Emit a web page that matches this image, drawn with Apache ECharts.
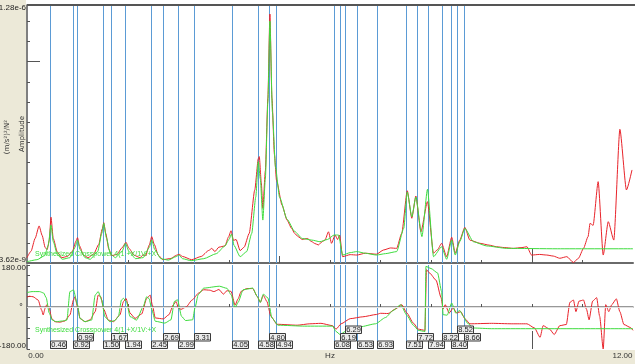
<!DOCTYPE html>
<html><head><meta charset="utf-8">
<script src="https://cdn.jsdelivr.net/npm/echarts@6/dist/echarts.min.js"></script>
<style>html,body{margin:0;padding:0;background:#fff}#c{width:635px;height:364px}</style>
</head><body><div id="c"></div>
<script>
// Marker (mode) frequencies, Hz
const markerHz = [0.46,0.92,0.99,1.50,1.67,1.94,2.45,2.69,2.99,3.31,4.05,4.58,4.80,4.94,6.08,6.19,6.29,6.53,6.93,7.51,7.72,7.94,8.22,8.40,8.52,8.66];

// Amplitude, [Hz, value in 1e-9 (m/s²)²/N²]
const ampMeasured = [[0.00,30],[0.08,62],[0.16,125],[0.24,187],[0.30,140],[0.36,80],[0.40,70],[0.44,115],[0.475,230],[0.52,125],[0.60,58],[0.69,30],[0.80,36],[0.90,62],[0.97,112],[1.00,129],[1.04,88],[1.12,42],[1.21,30],[1.32,48],[1.42,95],[1.49,172],[1.52,203],[1.56,150],[1.62,72],[1.68,40],[1.78,46],[1.88,78],[1.96,106],[2.02,76],[2.12,42],[2.24,30],[2.30,44],[2.35,40],[2.42,92],[2.47,134],[2.52,96],[2.60,42],[2.69,20],[2.85,26],[2.96,42],[3.01,47],[3.08,36],[3.26,20],[3.45,36],[3.60,66],[3.66,76],[3.72,60],[3.80,82],[3.92,88],[3.99,132],[4.04,163],[4.09,115],[4.14,120],[4.22,65],[4.30,82],[4.40,150],[4.51,365],[4.58,520],[4.60,530],[4.64,400],[4.67,274],[4.72,460],[4.77,820],[4.81,1235],[4.85,820],[4.90,540],[4.94,414],[5.05,290],[5.15,215],[5.24,175],[5.30,150],[5.37,134],[5.45,120],[5.55,125],[5.64,109],[5.70,100],[5.77,93],[5.85,110],[5.90,117],[5.97,158],[6.03,101],[6.10,142],[6.15,120],[6.19,142],[6.25,35],[6.40,45],[6.53,43],[6.70,52],[6.92,47],[7.06,68],[7.20,78],[7.32,76],[7.42,150],[7.53,361],[7.62,225],[7.70,335],[7.80,158],[7.93,307],[8.05,52],[8.13,70],[8.21,101],[8.31,35],[8.41,131],[8.48,52],[8.57,117],[8.67,180],[8.77,117],[8.97,101],[9.15,92],[9.30,84],[9.45,80],[9.63,76],[9.80,80],[9.90,84],[9.99,43],[10.15,46],[10.29,43],[10.42,38],[10.55,27],[10.69,35],[10.82,6],[10.92,27],[11.02,76],[11.11,134],[11.15,200],[11.21,190],[11.31,406],[11.41,43],[11.51,208],[11.62,117],[11.74,665],[11.87,365],[11.98,464]];
const ampSynth = [[0.00,10],[0.20,20],[0.35,40],[0.42,90],[0.475,191],[0.52,110],[0.60,45],[0.70,22],[0.85,30],[0.95,80],[1.00,117],[1.05,70],[1.15,30],[1.25,22],[1.40,60],[1.48,150],[1.52,200],[1.57,130],[1.65,50],[1.75,30],[1.88,60],[1.95,101],[2.02,60],[2.15,25],[2.30,30],[2.42,80],[2.47,117],[2.53,70],[2.65,25],[2.80,18],[2.95,35],[3.01,43],[3.08,25],[3.25,15],[3.50,25],[3.75,50],[3.92,88],[4.00,120],[4.05,147],[4.10,90],[4.22,35],[4.35,60],[4.45,150],[4.53,330],[4.58,505],[4.62,420],[4.67,216],[4.72,420],[4.77,800],[4.81,1200],[4.86,750],[4.92,480],[5.00,330],[5.15,220],[5.30,160],[5.45,125],[5.64,117],[5.80,109],[5.95,120],[6.08,142],[6.17,142],[6.25,43],[6.40,55],[6.53,60],[6.70,52],[6.92,43],[7.10,50],[7.32,60],[7.46,175],[7.53,355],[7.62,232],[7.70,330],[7.82,134],[7.93,368],[8.05,35],[8.21,84],[8.31,22],[8.41,117],[8.48,43],[8.57,110],[8.67,175],[8.84,109],[9.10,88],[9.50,76],[10.50,74],[12.00,74]];

// Phase, [Hz, degrees]
const phaseMeasured = [[0.00,42],[0.05,46],[0.12,44],[0.22,30],[0.29,-13],[0.32,-34],[0.36,-5],[0.39,9],[0.44,-5],[0.49,-49],[0.55,-63],[0.65,-65],[0.75,-60],[0.85,-34],[0.92,30],[0.95,44],[1.00,1],[1.05,-49],[1.15,-63],[1.25,-55],[1.35,-20],[1.41,51],[1.46,44],[1.52,-10],[1.61,-56],[1.71,-63],[1.84,-34],[1.91,23],[1.96,37],[2.04,-26],[2.14,-49],[2.27,-30],[2.37,37],[2.44,51],[2.48,10],[2.54,-47],[2.70,-51],[2.81,-33],[2.90,10],[2.95,24],[3.00,-5],[3.05,-10],[3.15,0],[3.27,30],[3.40,60],[3.50,74],[3.62,72],[3.70,66],[3.80,75],[3.89,55],[3.96,70],[4.04,67],[4.12,8],[4.18,35],[4.24,67],[4.35,79],[4.47,79],[4.56,45],[4.62,20],[4.68,50],[4.75,24],[4.83,-40],[4.95,-74],[5.35,-78],[5.60,-72],[5.82,-70],[6.05,-80],[6.12,-95],[6.22,-72],[6.40,-50],[6.65,-42],[6.92,-32],[7.00,-27],[7.15,-28],[7.30,-8],[7.42,10],[7.52,-25],[7.65,-69],[7.75,-95],[7.88,-100],[7.91,160],[7.97,146],[8.10,115],[8.20,40],[8.24,-9],[8.28,10],[8.36,-26],[8.44,-4],[8.51,-26],[8.59,-20],[8.67,-50],[8.77,-72],[9.20,-70],[9.60,-72],[9.90,-72],[10.05,-90],[10.16,-130],[10.22,-80],[10.35,-95],[10.44,-118],[10.55,-80],[10.68,-75],[10.75,20],[10.82,30],[10.87,-20],[10.93,25],[11.02,30],[11.08,-10],[11.13,-55],[11.20,25],[11.28,40],[11.34,-40],[11.41,-180],[11.46,10],[11.52,-20],[11.58,10],[11.67,35],[11.74,-20],[11.82,-75],[11.95,-88],[12.00,-100]];
const phaseSynth = [[0.00,62],[0.10,66],[0.25,66],[0.33,60],[0.38,40],[0.44,-26],[0.50,-56],[0.58,-63],[0.70,-60],[0.79,-56],[0.85,66],[0.92,73],[1.00,9],[1.05,-49],[1.15,-63],[1.28,-56],[1.35,51],[1.41,66],[1.48,30],[1.54,-41],[1.64,-63],[1.74,-58],[1.81,-41],[1.87,30],[1.91,37],[1.97,23],[2.04,-41],[2.17,-56],[2.30,1],[2.37,44],[2.42,35],[2.47,-10],[2.54,-61],[2.73,-69],[2.85,-55],[2.92,24],[2.98,31],[3.06,-40],[3.14,-58],[3.28,-55],[3.33,0],[3.39,53],[3.50,81],[3.81,89],[3.96,80],[4.04,53],[4.12,-4],[4.18,20],[4.28,74],[4.47,81],[4.56,45],[4.62,20],[4.68,55],[4.77,39],[4.85,-47],[4.97,-78],[5.50,-82],[6.05,-82],[6.12,-105],[6.20,-118],[6.30,-105],[6.40,-92],[6.60,-85],[6.90,-72],[7.10,-45],[7.25,-15],[7.40,10],[7.52,-35],[7.65,-78],[7.75,-100],[7.88,-105],[7.90,174],[8.00,165],[8.13,146],[8.21,67],[8.24,-33],[8.32,-35],[8.41,17],[8.49,-26],[8.57,-15],[8.64,-40],[8.72,-69],[8.84,-90],[9.20,-93],[12.00,-93]];

// Axis ranges and tick labels
const ampMin = 3.62, ampMax = 1280;
const ampTickLabels = ['3.62e-9', '1.28e-6'];
const phaseTickLabels = ['-180.00', '180.00'];
const freqTickLabels = ['0.00', '12.00'];
const seriesName = 'Synthesized Crosspower 4(1:+X/1V:+X';

const FONT = 'Liberation Sans';
const RED = '#e8232a', GREEN = '#3edc3e', BLUE = '#5b9bd5';

// tick positions
const ampTicks = []; for (let v = 100; v <= 1200; v += 100) ampTicks.push(v);
const freqTicks = []; for (let v = 1; v <= 11; v++) freqTicks.push(v);

// stack marker label boxes into rows so they don't overlap
const boxHz = 0.33, rowEnd = [];
const markerBoxes = markerHz.map(f => {
  let r = 0;
  while (rowEnd[r] !== undefined && rowEnd[r] > f + 1e-9) r++;
  rowEnd[r] = f + boxHz;
  return [f, r];
});

function xAx(grid, ticks, len, extra) {
  return Object.assign({
    gridIndex: grid, type: 'value', min: 0, max: 12, position: 'bottom',
    axisLine: {show: false},
    axisTick: {show: true, inside: true, length: len, customValues: ticks, lineStyle: {color: '#555', width: 1}},
    axisLabel: {show: false}, splitLine: {show: false}
  }, extra || {});
}

// vertical marker line drawn through the axis scale
function markerLine(yRef) {
  return function (params, api) {
    const p = api.coord([api.value(0), yRef]);
    const cs = params.coordSys;
    const x = Math.round(p[0]) + 0.5;
    return {type: 'line', shape: {x1: x, y1: cs.y, x2: x, y2: cs.y + cs.height},
            style: {stroke: BLUE, lineWidth: 1}};
  };
}

function curve(name, xi, yi, data, color, z) {
  return {name: name, type: 'line', xAxisIndex: xi, yAxisIndex: yi, data: data,
          showSymbol: false, z: z, smooth: 0.2, smoothMonotone: 'x',
          lineStyle: {color: color, width: 1}, itemStyle: {color: color}};
}

const chart = echarts.init(document.getElementById('c'));
chart.setOption({
  animation: false,
  backgroundColor: '#ffffff',
  grid: [
    {left: 27, top: 5, width: 606, height: 258, containLabel: false, outerBoundsMode: 'none'},
    {left: 27, top: 265, width: 606, height: 84, containLabel: false, outerBoundsMode: 'none'}
  ],
  xAxis: [
    xAx(0, freqTicks, 3, {axisLine: {show: true, lineStyle: {color: '#6a6a6a', width: 2}}}),
    xAx(0, [5], 7),
    xAx(0, [10], 14),
    xAx(1, freqTicks, 3, {
      axisLine: {show: true, lineStyle: {color: '#777', width: 1.5}},
      axisLabel: {show: true, customValues: [0, 12], margin: 3,
        formatter: v => v < 6 ? '{l|' + freqTickLabels[0] + '}' : '{r|' + freqTickLabels[1] + '}',
        rich: {l: {padding: [0, 0, 0, 18], fontSize: 8, fontFamily: FONT, color: '#333'},
               r: {padding: [0, 21, 0, 0], fontSize: 8, fontFamily: FONT, color: '#333'}}},
      name: 'Hz', nameLocation: 'middle', nameGap: 3, nameMoveOverlap: false,
      nameTextStyle: {fontSize: 8, fontFamily: FONT, color: '#333', verticalAlign: 'top'}
    }),
    xAx(1, [5], 8),
    xAx(1, [10], 18)
  ],
  yAxis: [
    {gridIndex: 0, type: 'value', min: ampMin, max: ampMax, position: 'left',
     axisLine: {show: true, lineStyle: {color: '#555', width: 1.5}},
     axisTick: {show: true, inside: true, length: 3, customValues: ampTicks, lineStyle: {color: '#555'}},
     axisLabel: {show: true, customValues: [ampMin, ampMax], margin: 1,
       formatter: v => v < 100 ? '{b|' + ampTickLabels[0] + '}' : '{t|' + ampTickLabels[1] + '}',
       rich: {t: {padding: [6, 0, 0, 0], fontSize: 8, fontFamily: FONT, color: '#222'},
              b: {padding: [0, 0, 6, 0], fontSize: 8, fontFamily: FONT, color: '#222'}}},
     splitLine: {show: false}},
    {gridIndex: 0, type: 'value', min: ampMin, max: ampMax, position: 'left',
     axisLine: {show: false},
     axisTick: {show: true, inside: true, length: 13, customValues: [1000], lineStyle: {color: '#555'}},
     axisLabel: {show: false}, splitLine: {show: false}},
    {gridIndex: 1, type: 'value', min: -180, max: 180, interval: 45, position: 'left',
     axisLine: {show: true, lineStyle: {color: '#555', width: 1.5}},
     axisTick: {show: true, inside: true, length: 3, lineStyle: {color: '#555'}},
     axisLabel: {show: true, customValues: [-180, 180], margin: 1,
       formatter: v => v < 0 ? '{b|' + phaseTickLabels[0] + '}' : '{t|' + phaseTickLabels[1] + '}',
       rich: {t: {padding: [6, 0, 0, 0], fontSize: 8, fontFamily: FONT, color: '#222'},
              b: {padding: [0, 0, 6, 0], fontSize: 8, fontFamily: FONT, color: '#222'}}},
     splitLine: {show: false}}
  ],
  series: [
    {type: 'custom', xAxisIndex: 0, yAxisIndex: 0, data: markerHz.map(f => [f, ampMin]), z: 1, silent: true,
     encode: {x: 0, y: 1}, renderItem: markerLine(ampMin)},
    {type: 'custom', xAxisIndex: 3, yAxisIndex: 2, data: markerHz.map(f => [f, 0]), z: 1, silent: true,
     encode: {x: 0, y: 1}, renderItem: markerLine(0)},
    {type: 'line', xAxisIndex: 3, yAxisIndex: 2, data: [], z: 0, silent: true,
     markLine: {silent: true, symbol: 'none', label: {show: false},
       lineStyle: {color: '#e2e2e2', width: 1, type: 'solid'}, data: [{yAxis: 0}]}},
    curve('Measured amplitude', 0, 0, ampMeasured, RED, 3),
    curve(seriesName, 0, 0, ampSynth, GREEN, 4),
    curve('Measured phase', 3, 2, phaseMeasured, RED, 3),
    curve(seriesName + ' phase', 3, 2, phaseSynth, GREEN, 4),
    {type: 'custom', xAxisIndex: 3, yAxisIndex: 2, data: markerBoxes, z: 10, clip: false, silent: true,
     encode: {x: 0, y: 1},
     renderItem: function (params, api) {
       const f = api.value(0), row = api.value(1);
       const p = api.coord([f, -180]);
       const h = 7.5, w = 16;
       const x = Math.round(p[0]) + 0.5;
       const yb = p[1] - 0.5 - row * h;
       return {type: 'group', children: [
         {type: 'rect', shape: {x: x, y: yb - h, width: w, height: h},
          style: {fill: '#ebebeb', stroke: '#3a3a3a', lineWidth: 1}},
         {type: 'text', style: {text: f.toFixed(2), x: x + w / 2, y: yb - h / 2 + 0.5,
          align: 'center', verticalAlign: 'middle', font: '7.5px "Liberation Sans"', fill: '#222'}}
       ]};
     }}
  ],
  graphic: [
    {type: 'rect', z: -1, shape: {x: 0, y: 0, width: 26, height: 364}, style: {fill: '#ECE9D8'}},
    {type: 'rect', z: -1, shape: {x: 0, y: 350, width: 635, height: 14}, style: {fill: '#ECE9D8'}},
    {type: 'line', z: 5, shape: {x1: 27, y1: 5, x2: 635, y2: 5}, style: {stroke: '#555', lineWidth: 2}},
    {type: 'text', z: 5, x: 7, y: 137, rotation: Math.PI / 2,
     style: {text: '(m/s²)²/N²', align: 'center', verticalAlign: 'middle', font: '7px "DejaVu Sans"', fill: '#333'}},
    {type: 'text', z: 5, x: 22, y: 134, rotation: Math.PI / 2,
     style: {text: 'Amplitude', align: 'center', verticalAlign: 'middle', font: '7px "DejaVu Sans"', fill: '#333'}},
    {type: 'text', z: 5, x: 21, y: 308,
     style: {text: '°', align: 'center', verticalAlign: 'middle', font: '8px "DejaVu Sans"', fill: '#333'}},
    {type: 'text', z: 20, x: 35, y: 254,
     style: {text: seriesName, align: 'left', verticalAlign: 'middle', font: '7px "Liberation Sans"', fill: GREEN}},
    {type: 'text', z: 20, x: 35, y: 330,
     style: {text: seriesName, align: 'left', verticalAlign: 'middle', font: '7px "Liberation Sans"', fill: GREEN}}
  ]
});
</script>
</body></html>
